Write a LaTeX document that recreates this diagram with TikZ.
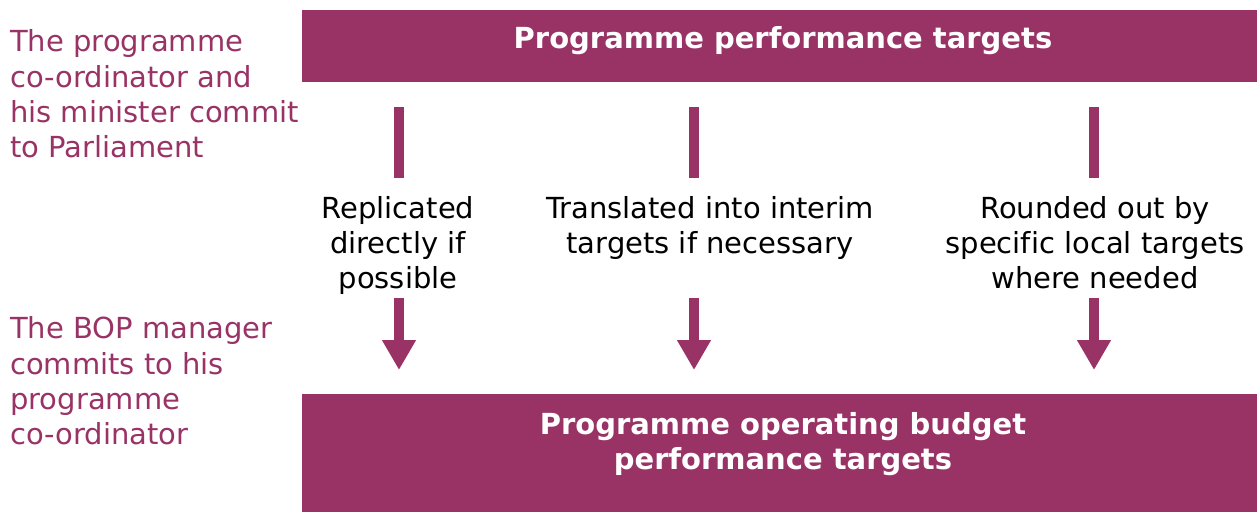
\documentclass[tikz,border=0pt]{standalone}
\usepackage{fontspec}
\setmainfont[Ligatures=NoCommon]{DejaVu Sans}
\usetikzlibrary{arrows.meta}
\definecolor{plum}{HTML}{993366}
\tikzset{
  x=1pt,y=-1pt,
  banner/.style={fill=plum,draw=none,inner sep=0pt,text=white,align=center,font=\fontsize{29}{35}\selectfont\bfseries},
  sidetext/.style={anchor=west,align=left,inner sep=0pt,text=plum,font=\fontsize{29}{35.3}\selectfont},
  midtext/.style={align=center,inner sep=0pt,text=black,font=\fontsize{29}{35}\selectfont},
  bar/.style={draw=plum,line width=10pt},
  downarrow/.style={draw=plum,line width=10pt,-{Triangle[width=32pt,length=30pt]}},
}
\begin{document}
\begin{tikzpicture}
\useasboundingbox (0,0) rectangle (1257,512);
% banners
\fill[plum] (302,10) rectangle (1257,82);
\node[banner] (top) at (783,41) {Programme performance targets};
\fill[plum] (302,394) rectangle (1257,512);
\node[banner] (bottom) at (783,444.5) {Programme operating budget\\performance targets};
% side texts
\node[sidetext] (lefttop) at (10,94) {The programme\\co-ordinator and\\his minister commit\\to Parliament};
\node[sidetext] (leftbottom) at (10,381) {The BOP manager\\commits to his\\programme\\co-ordinator};
% middle texts
\node[midtext] (t1) at (398,245) {Replicated\\directly if\\possible};
\node[midtext] (t2) at (710,227.5) {Translated into interim\\targets if necessary};
\node[midtext] (t3) at (1095,243) {Rounded out by\\specific local targets\\where needed};
% bar and arrow coordinates
\coordinate (a1) at (399,107); \coordinate (b1) at (399,178);
\coordinate (c1) at (399,298); \coordinate (d1) at (399,370);
\coordinate (a2) at (694,107); \coordinate (b2) at (694,178);
\coordinate (c2) at (694,298); \coordinate (d2) at (694,370);
\coordinate (a3) at (1094,107); \coordinate (b3) at (1094,178);
\coordinate (c3) at (1094,298); \coordinate (d3) at (1094,370);
\draw[bar] (a1) -- (b1);
\draw[bar] (a2) -- (b2);
\draw[bar] (a3) -- (b3);
\draw[downarrow] (c1) -- (d1);
\draw[downarrow] (c2) -- (d2);
\draw[downarrow] (c3) -- (d3);
\end{tikzpicture}
\end{document}
